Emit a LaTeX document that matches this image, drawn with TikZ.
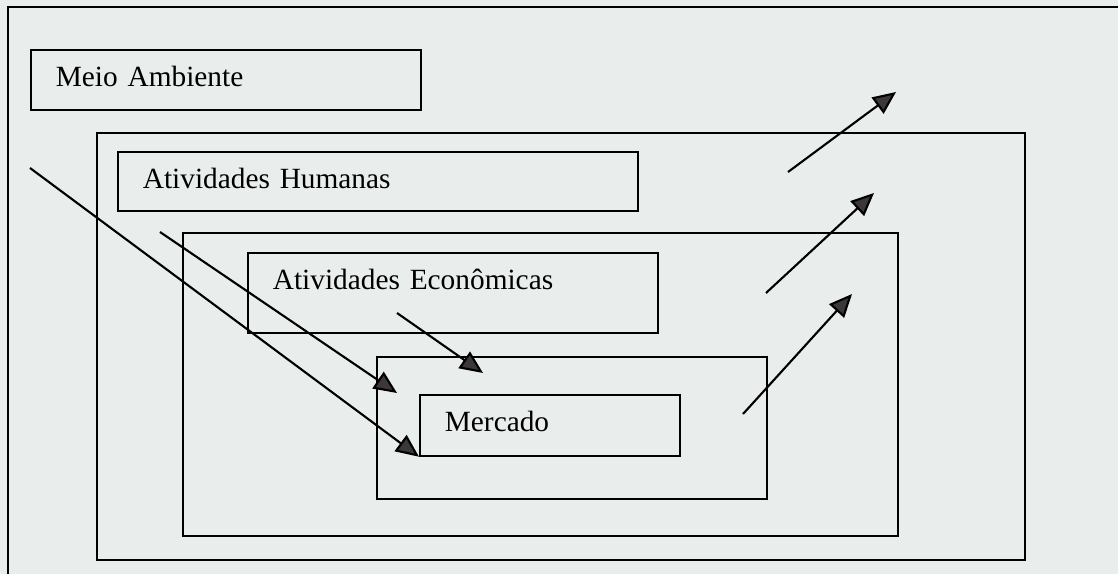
\documentclass[tikz,border=0pt]{standalone}
\usepackage{fontspec}
\setmainfont{Liberation Serif}
\usepackage{xcolor}
\usepackage{tikz}
\usetikzlibrary{arrows.meta,positioning,calc}

\definecolor{papel}{RGB}{233,238,236}
\definecolor{ponta}{RGB}{60,55,57}

\begin{document}
\begin{tikzpicture}[
        x=0.02cm, y=-0.02cm,
        quadro/.style={draw, line width=1pt, anchor=north west, inner sep=0pt},
        rotulo/.style={quadro, inner xsep=0.5cm, text height=0.74cm, align=left,
            font=\fontsize{16.7}{20}\selectfont},
        seta/.style={line width=1.2pt, -{Triangle[length=0.46cm, width=0.4cm, fill=ponta]}},
        >=latex
    ]
        \useasboundingbox (0,0) rectangle (1118,574);
        \fill[papel] (-20,-20) rectangle (1140,600);
        \draw[line width=1pt] (8,574) -- (8,7) -- (1118,7);

        \node[rotulo, text width=6.8cm, text depth=0.46cm] (meio) at (30,49) {Meio Ambiente};

        \node[quadro, minimum width=18.56cm, minimum height=8.54cm] (humanas) at (96,132) {};
        \node[rotulo, text width=9.4cm, text depth=0.44cm] (rhumanas) at (117,151) {Atividades Humanas};

        \node[quadro, minimum width=14.3cm, minimum height=6.06cm] (economicas) at (182,232) {};
        \node[rotulo, text width=7.2cm, text depth=0.86cm] (reconomicas) at (247,252) {Atividades Econômicas};

        \node[quadro, minimum width=7.8cm, minimum height=2.84cm] (mercado) at (376,356) {};
        \node[rotulo, text width=4.2cm, text depth=0.48cm] (rmercado) at (419,394) {Mercado};

        % setas de entrada
        \coordinate (e1) at (30,168);
        \coordinate (e2) at (160,232);
        \coordinate (e2f) at (397,393);
        \coordinate (e3) at (397,313);
        \coordinate (e3f) at (483,373);
        \draw[seta] (e1) -- (rmercado.south west);
        \draw[seta] (e2) -- (e2f);
        \draw[seta] (e3) -- (e3f);

        % setas de saida
        \coordinate (s1) at (788,172);
        \coordinate (s1f) at (896,92);
        \coordinate (s2) at (766,293);
        \coordinate (s2f) at (874,193);
        \coordinate (s3) at (743,414);
        \coordinate (s3f) at (852,294);
        \draw[seta] (s1) -- (s1f);
        \draw[seta] (s2) -- (s2f);
        \draw[seta] (s3) -- (s3f);
    \end{tikzpicture}
\end{document}
